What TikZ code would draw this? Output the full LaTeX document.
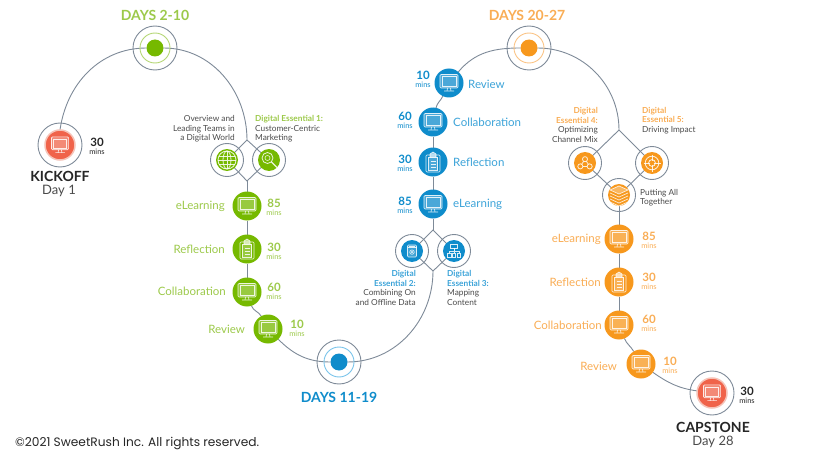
\documentclass[tikz,border=0pt]{standalone}
\usepackage{fontspec}
\setmainfont{Lato}
\newfontfamily\rightsfont{Poppins}
\usetikzlibrary{backgrounds}
\definecolor{cgreen}{HTML}{76B900}
\definecolor{cgreent}{HTML}{9CC94A}
\definecolor{cgreenl}{HTML}{B4D674}
\definecolor{cblue}{HTML}{0F8CCB}
\definecolor{cbluet}{HTML}{3CA3D8}
\definecolor{cbluel}{HTML}{78C3EA}
\definecolor{corange}{HTML}{F7981D}
\definecolor{coranget}{HTML}{F9AD55}
\definecolor{corangel}{HTML}{FAC384}
\definecolor{cred}{HTML}{F0634A}
\definecolor{chalo}{HTML}{F5C3B8}
\definecolor{cline}{HTML}{7E8A98}
\definecolor{ctext}{HTML}{4A4A4A}
\newcommand{\minsof}[1]{{\fontsize{11.5}{10}\selectfont\bfseries #1}\\[-3.8pt]{\fontsize{7.5}{7}\selectfont mins}}
\tikzset{
  conn/.style={draw=cline,line width=.9pt},
  ringline/.style={draw=cline,line width=.9pt},
  dot/.style={circle,inner sep=0pt,outer sep=0pt,minimum size=17pt,fill=#1},
  stepnode/.style={circle,inner sep=0pt,outer sep=0pt,minimum size=29pt,fill=#1},
  essnode/.style={circle,inner sep=0pt,outer sep=0pt,minimum size=22pt,fill=#1},
  rednode/.style={circle,inner sep=0pt,outer sep=0pt,minimum size=30pt,fill=cred,draw=chalo,line width=1.5pt},
  title/.style={font=\fontsize{14}{14}\selectfont\bfseries,text=#1,inner sep=0pt},
  steplabel/.style={font=\fontsize{11.5}{12}\selectfont,text=#1,inner sep=0pt},
  minslabel/.style={align=center,text=#1,inner sep=0pt},
  smalltext/.style={font=\fontsize{8.3}{9.4}\selectfont,text=ctext,inner sep=0pt},
  icon/.style={draw=white,draw opacity=.85,line width=.6pt},
  screenicon/.pic={
    \draw[icon,fill=white,fill opacity=.25,rounded corners=1pt] (-9,-8.5) rectangle (9,5);
    \draw[icon] (-7,-6.5) rectangle (7,3);
    \draw[icon] (-1.5,5) -- (-2,8) (1.5,5) -- (2,8) (-5,8) -- (5,8);
  },
  clipicon/.pic={
    \draw[icon,rounded corners=1pt] (-7,-7) rectangle (7,10);
    \draw[icon,fill=white,fill opacity=.25] (-4.5,-5) rectangle (4.5,8);
    \draw[icon,fill=white,fill opacity=.6] (-3,-5) -- (-3,-8) -- (0,-10) -- (3,-8) -- (3,-5) -- cycle;
    \draw[icon] (-2.5,-1) -- (2.5,-1) (-2.5,2) -- (2.5,2) (-2.5,5) -- (2.5,5);
  },
  globeicon/.pic={
    \draw[icon,line width=.8pt] (0,0) circle (9);
    \draw[icon,line width=.8pt] (0,0) ellipse (4 and 9);
    \draw[icon,line width=.8pt] (0,-9) -- (0,9) (-9,0) -- (9,0) (-8,-4) -- (8,-4) (-8,4) -- (8,4);
  },
  lensicon/.pic={
    \draw[icon,line width=.8pt] (-1.5,-2) circle (5.5);
    \draw[icon] (-1.5,-2) circle (2.5);
    \draw[icon,line width=1.2pt] (2.5,2) -- (8,7.5);
  },
  docicon/.pic={
    \draw[icon,fill=white,fill opacity=.2,rounded corners=1pt] (-6,-8) rectangle (6,8);
    \draw[icon] (-6,-4.5) -- (6,-4.5) (-4,-6.3) -- (4,-6.3);
    \draw[icon] (0,1.5) circle (3);
    \draw[icon] (0,1.5) circle (1.2);
  },
  treeicon/.pic={
    \draw[icon] (-4.5,-8) rectangle (4.5,-4);
    \draw[icon] (0,-4) -- (0,3) (-6,0) -- (6,0) (-6,0) -- (-6,3) (6,0) -- (6,3);
    \draw[icon] (-8,3) rectangle (-4,8) (-2,3) rectangle (2,8) (4,3) rectangle (8,8);
  },
  hubicon/.pic={
    \draw[icon,line width=.8pt] (0,-4.5) circle (3) (-5.5,4) circle (3) (5.5,4) circle (3);
    \draw[icon,line width=.8pt] (-1.5,-2) -- (-4,1.5) (1.5,-2) -- (4,1.5) (-2.5,4) -- (2.5,4);
  },
  targeticon/.pic={
    \draw[icon,line width=.8pt] (0,0) circle (8) (0,0) circle (4);
    \draw[icon,line width=.8pt] (0,-10) -- (0,-2) (0,2) -- (0,10) (-10,0) -- (-2,0) (2,0) -- (10,0);
  },
  stackicon/.pic={
    \foreach \yy in {7,4,1,-2}
      \draw[icon,line width=.7pt] (-9,\yy) -- (0,\yy+4) -- (9,\yy);
    \draw[icon,fill=white,fill opacity=.3,line width=.7pt] (-9,-5) -- (0,-9) -- (9,-5) -- (0,-1) -- cycle;
  }
}
\begin{document}
\begin{tikzpicture}[x=1pt,y=-1pt]
  \useasboundingbox (0,0) rectangle (820,460);
  % first leg
  \node[rednode] (kickoff) at (60,145) {};
  \node[dot=cgreen] (daysA) at (155,48) {};
  \coordinate (topA) at (247,140);
  \node[essnode=cgreen] (globe) at (227,160) {};
  \node[essnode=cgreen] (lens) at (269,160) {};
  \coordinate (botA) at (247,181);
  \node[stepnode=cgreen] (learnA) at (247,206) {};
  \node[stepnode=cgreen] (reflectA) at (247,249) {};
  \node[stepnode=cgreen] (collabA) at (247,292) {};
  \node[stepnode=cgreen] (reviewA) at (268,329) {};
  % second leg
  \node[dot=cblue] (daysB) at (339,362) {};
  \coordinate (botB) at (433,271);
  \node[essnode=cblue] (docs) at (412,251) {};
  \node[essnode=cblue] (tree) at (454,251) {};
  \coordinate (topB) at (433,230);
  \node[stepnode=cblue] (learnB) at (433,204) {};
  \node[stepnode=cblue] (reflectB) at (433,162) {};
  \node[stepnode=cblue] (collabB) at (433,122) {};
  \node[stepnode=cblue] (reviewB) at (449,83) {};
  % third leg
  \node[dot=corange] (daysC) at (529,48) {};
  \coordinate (topC) at (619,130);
  \node[essnode=corange] (hub) at (585,163) {};
  \node[essnode=corange] (target) at (652,163) {};
  \node[essnode=corange] (stack) at (619,195) {};
  \node[stepnode=corange] (learnC) at (619,239) {};
  \node[stepnode=corange] (reflectC) at (619,282) {};
  \node[stepnode=corange] (collabC) at (619,325) {};
  \node[stepnode=corange] (reviewC) at (641,364) {};
  \node[rednode] (capstone) at (712,393) {};

  \begin{scope}[on background layer]
    \draw[conn] (kickoff.north) to[out=82,in=180] (daysA);
    \draw[conn] (daysA) to[out=0,in=90] (topA);
    \draw[conn] (topA) -- (globe) -- (botA) -- (lens) -- (topA);
    \draw[conn] (botA) -- (learnA) -- (reflectA) -- (collabA);
    \draw[conn] (collabA) to[out=-72,in=118] (reviewA);
    \draw[conn] (reviewA) to[out=-45,in=180] (daysB);
    \draw[conn] (daysB) to[out=0,in=270] (botB);
    \draw[conn] (botB) -- (docs) -- (topB) -- (tree) -- (botB);
    \draw[conn] (topB) -- (learnB) -- (reflectB) -- (collabB);
    \draw[conn] (collabB) to[out=78,in=245] (reviewB);
    \draw[conn] (reviewB) to[out=50,in=180] (daysC);
    \draw[conn] (daysC) to[out=0,in=90] (topC);
    \draw[conn] (topC) -- (hub) -- (stack) -- (target) -- (topC);
    \draw[conn] (stack) -- (learnC) -- (reflectC) -- (collabC);
    \draw[conn] (collabC) to[out=-68,in=120] (reviewC);
    \draw[conn] (reviewC) to[out=-35,in=172] (capstone);
  \end{scope}

  % rings
  \draw[ringline] (kickoff) circle (22);
  \draw[ringline] (capstone) circle (22);
  \draw[ringline] (daysA) circle (22);
  \draw[cgreenl,line width=.9pt] (daysA) circle (15);
  \draw[ringline] (daysB) circle (22);
  \draw[cbluel,line width=.9pt] (daysB) circle (15);
  \draw[ringline] (daysC) circle (22);
  \draw[corangel,line width=.9pt] (daysC) circle (15);
  \draw[ringline] (globe) circle (16.5);
  \draw[ringline] (lens) circle (16.5);
  \draw[ringline] (docs) circle (16.5);
  \draw[ringline] (tree) circle (16.5);
  \draw[ringline] (hub) circle (16.5);
  \draw[ringline] (target) circle (16.5);
  \draw[ringline] (stack) circle (16.5);

  % icons
  \pic[scale=.95] at (kickoff) {screenicon};
  \pic[scale=.95] at (capstone) {screenicon};
  \pic at (learnA) {screenicon};
  \pic at (reflectA) {clipicon};
  \pic at (collabA) {screenicon};
  \pic at (reviewA) {screenicon};
  \pic at (learnB) {screenicon};
  \pic at (reflectB) {clipicon};
  \pic at (collabB) {screenicon};
  \pic at (reviewB) {screenicon};
  \pic at (learnC) {screenicon};
  \pic at (reflectC) {clipicon};
  \pic at (collabC) {screenicon};
  \pic at (reviewC) {screenicon};
  \pic at (globe) {globeicon};
  \pic at (lens) {lensicon};
  \pic[scale=.75] at (docs) {docicon};
  \pic[scale=.8] at (tree) {treeicon};
  \pic[scale=.85] at (hub) {hubicon};
  \pic[scale=.85] at (target) {targeticon};
  \pic at (stack) {stackicon};

  % titles
  \node[title=cgreent] (titleA) at (155,15) {DAYS 2-10};
  \node[title=cblue] (titleB) at (339,397) {DAYS 11-19};
  \node[title=coranget] (titleC) at (527,15) {DAYS 20-27};
  \node[title=black!85] (kicktext) at (60,176.5) {KICKOFF};
  \node[font=\fontsize{13}{13}\selectfont,text=ctext,inner sep=0pt] (kickday) at (59,191) {Day 1};
  \node[title=black!85] (capstext) at (713,427) {CAPSTONE};
  \node[font=\fontsize{13}{13}\selectfont,text=ctext,inner sep=0pt] (capsday) at (713,442) {Day 28};
  \node[minslabel=black!85] (kickmins) at (97,146) {\minsof{30}};
  \node[minslabel=black!85] (capsmins) at (747,395) {\minsof{30}};

  % step labels
  \node[steplabel=cgreent,anchor=east] at (225,206) {eLearning};
  \node[steplabel=cgreent,anchor=east] at (225,249) {Reflection};
  \node[steplabel=cgreent,anchor=east] at (226,291) {Collaboration};
  \node[steplabel=cgreent,anchor=east] at (245,329) {Review};
  \node[minslabel=cgreent] at (274,207) {\minsof{85}};
  \node[minslabel=cgreent] at (274,251) {\minsof{30}};
  \node[minslabel=cgreent] at (274,291) {\minsof{60}};
  \node[minslabel=cgreent] at (297,328) {\minsof{10}};

  \node[steplabel=cbluet,anchor=west] at (468,84) {Review};
  \node[steplabel=cbluet,anchor=west] at (453,122) {Collaboration};
  \node[steplabel=cbluet,anchor=west] at (453,162) {Reflection};
  \node[steplabel=cbluet,anchor=west] at (453,204) {eLearning};
  \node[minslabel=cblue] at (423,79) {\minsof{10}};
  \node[minslabel=cblue] at (405,120) {\minsof{60}};
  \node[minslabel=cblue] at (405,163) {\minsof{30}};
  \node[minslabel=cblue] at (405,205) {\minsof{85}};

  \node[steplabel=coranget,anchor=east] at (601,239) {eLearning};
  \node[steplabel=coranget,anchor=east] at (601,282) {Reflection};
  \node[steplabel=coranget,anchor=east] at (602,325) {Collaboration};
  \node[steplabel=coranget,anchor=east] at (617,366) {Review};
  \node[minslabel=coranget] at (649,240) {\minsof{85}};
  \node[minslabel=coranget] at (649,281) {\minsof{30}};
  \node[minslabel=coranget] at (649,323) {\minsof{60}};
  \node[minslabel=coranget] at (670,365) {\minsof{10}};

  % small texts
  \node[smalltext,align=right,anchor=east] at (235,129) {Overview and\\Leading Teams in\\a Digital World};
  \node[smalltext,align=left,anchor=west] at (255,129) {\textcolor{cgreent}{\bfseries Digital Essential 1:}\\Customer-Centric\\Marketing};
  \node[smalltext,align=right,anchor=east] at (416,288) {\textcolor{cbluet}{\bfseries Digital}\\\textcolor{cbluet}{\bfseries Essential 2:}\\Combining On\\and Offline Data};
  \node[smalltext,align=left,anchor=west] at (447,288) {\textcolor{cbluet}{\bfseries Digital}\\\textcolor{cbluet}{\bfseries Essential 3:}\\Mapping\\Content};
  \node[smalltext,align=right,anchor=east] at (598,125) {\textcolor{coranget}{\bfseries Digital}\\\textcolor{coranget}{\bfseries Essential 4:}\\Optimizing\\Channel Mix};
  \node[smalltext,align=left,anchor=west] at (642,120.5) {\textcolor{coranget}{\bfseries Digital}\\\textcolor{coranget}{\bfseries Essential 5:}\\Driving Impact};
  \node[smalltext,align=left,anchor=west] at (640,197.5) {Putting All\\Together};

  \node[font=\rightsfont\fontsize{12.2}{13}\selectfont,text=black!85,inner sep=0pt,anchor=west] (rights) at (15,444) {©2021 SweetRush Inc. All rights reserved.};
\end{tikzpicture}
\end{document}
